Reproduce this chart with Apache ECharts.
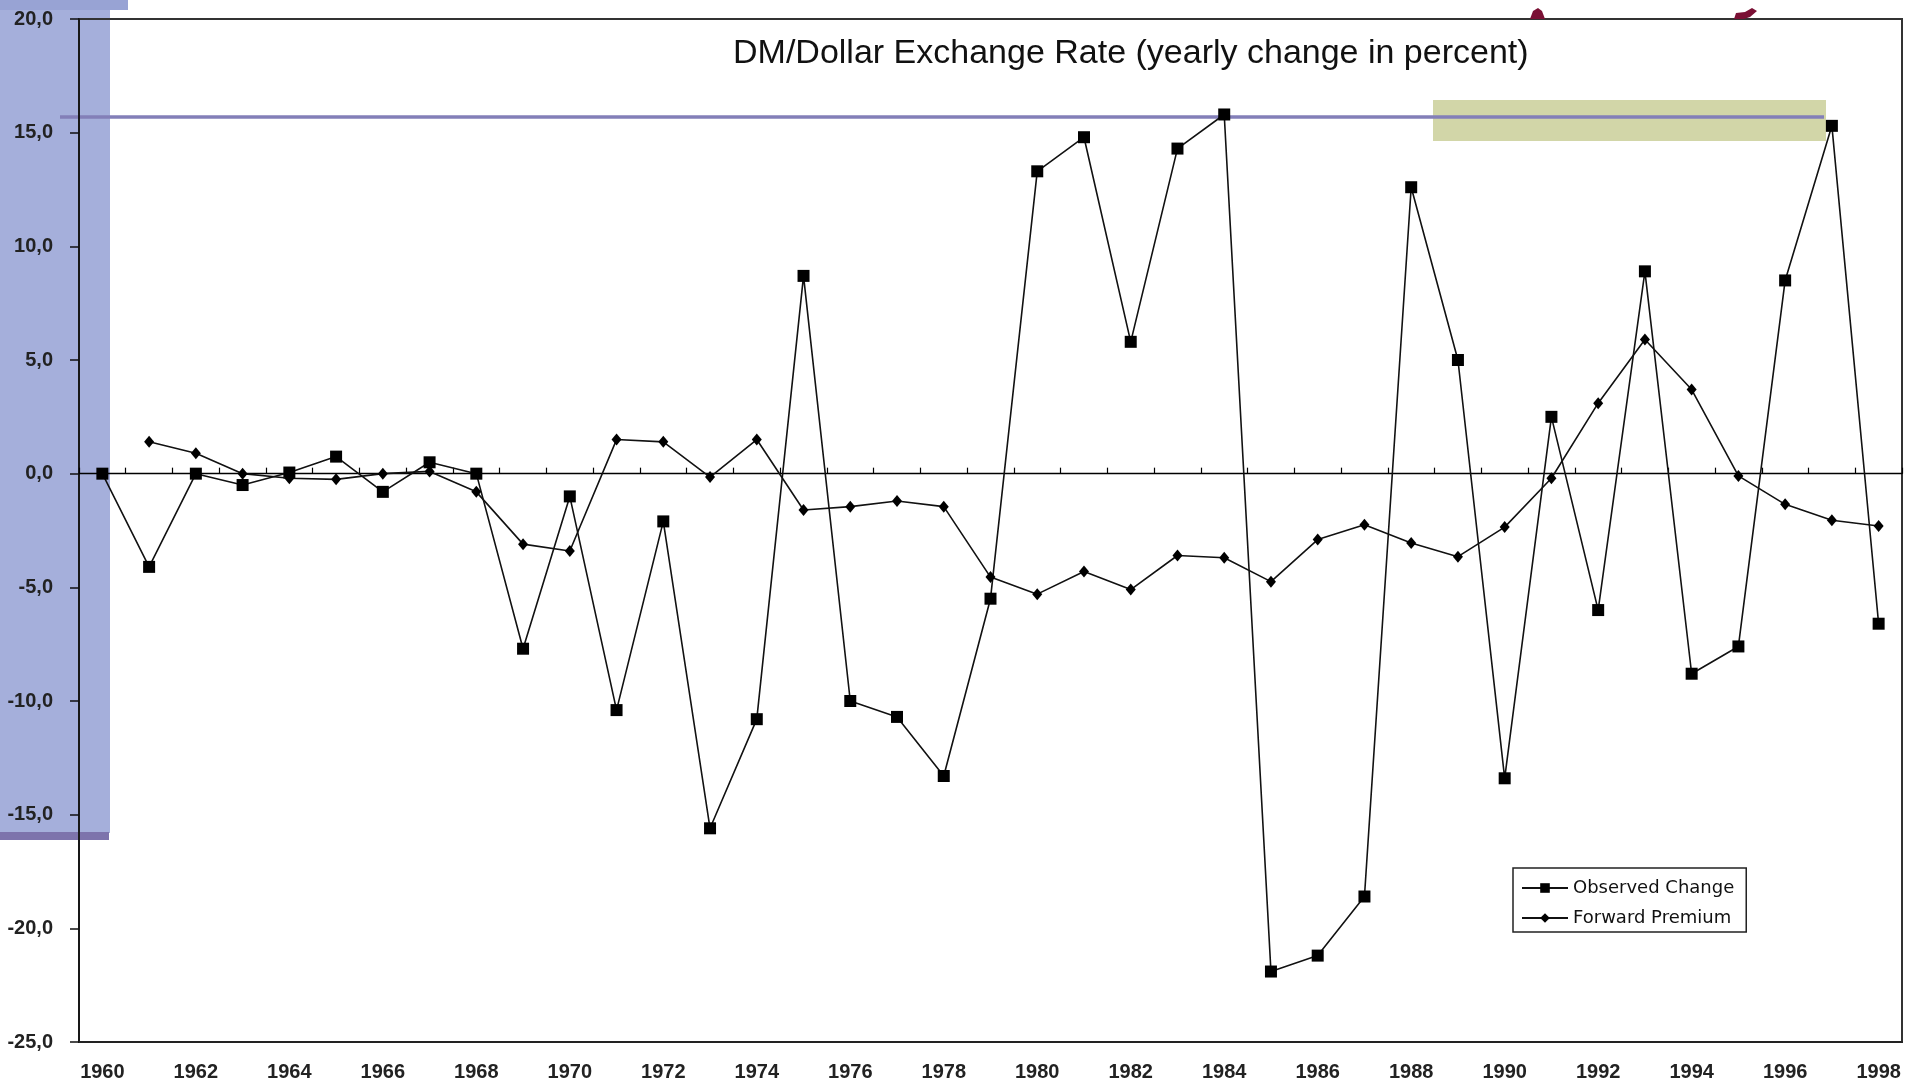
<!DOCTYPE html>
<html>
<head>
<meta charset="utf-8">
<script src="https://cdn.jsdelivr.net/npm/echarts@6/dist/echarts.min.js"></script>
<style>
  html, body { margin: 0; padding: 0; background: #fff; }
  #chart { width: 1907px; height: 1083px; }
</style>
</head>
<body>
<div id="chart"></div>
<script>
// years on the category axis
var years = ["1960", "1961", "1962", "1963", "1964", "1965", "1966", "1967", "1968", "1969",
  "1970", "1971", "1972", "1973", "1974", "1975", "1976", "1977", "1978", "1979",
  "1980", "1981", "1982", "1983", "1984", "1985", "1986", "1987", "1988", "1989",
  "1990", "1991", "1992", "1993", "1994", "1995", "1996", "1997", "1998"];

// yearly change of the DM/Dollar rate, percent
var observedChange = [0.0, -4.1, 0.0, -0.5, 0.05, 0.75, -0.8, 0.5, 0.0, -7.7,
  -1.0, -10.4, -2.1, -15.6, -10.8, 8.7, -10.0, -10.7, -13.3, -5.5,
  13.3, 14.8, 5.8, 14.3, 15.8, -21.9, -21.2, -18.6, 12.6, 5.0,
  -13.4, 2.5, -6.0, 8.9, -8.8, -7.6, 8.5, 15.3, -6.6];

var forwardPremium = [null, 1.4, 0.9, 0.0, -0.2, -0.25, 0.0, 0.1, -0.8, -3.1,
  -3.4, 1.5, 1.4, -0.15, 1.5, -1.6, -1.45, -1.2, -1.45, -4.55,
  -5.3, -4.3, -5.1, -3.6, -3.7, -4.75, -2.9, -2.25, -3.05, -3.65,
  -2.35, -0.2, 3.1, 5.9, 3.7, -0.1, -1.35, -2.05, -2.3];

var yTicks = { min: -25, max: 20, step: 5 };

var chart = echarts.init(document.getElementById("chart"));

var axisFont = { fontFamily: "Liberation Sans", fontSize: 20, fontWeight: "bold", color: "#222" };

chart.setOption({
  animation: false,
  backgroundColor: "#fff",
  title: {
    text: "DM/Dollar Exchange Rate (yearly change in percent)",
    left: 733,
    top: 37,
    padding: 0,
    textStyle: { fontFamily: "Liberation Sans", fontSize: 34, fontWeight: "normal", color: "#111" }
  },
  // slide decorations around the chart
  graphic: [
    { type: "rect", z: -5, shape: { x: 0, y: 0, width: 110, height: 833 }, style: { fill: "#a5afdb" } },
    { type: "rect", z: -5, shape: { x: 0, y: 0, width: 128, height: 10 }, style: { fill: "#98a3d4" } },
    { type: "rect", z: -5, shape: { x: 0, y: 832, width: 109, height: 8 }, style: { fill: "#7d73ac" } },
    { type: "rect", z: -4, shape: { x: 1433, y: 100, width: 393, height: 41 }, style: { fill: "#d2d6a8" } },
    { type: "line", z: -3, shape: { x1: 60, y1: 117, x2: 1824, y2: 117 }, style: { stroke: "#837fb8", lineWidth: 3.5 } },
    { type: "polygon", z: 10, shape: { points: [[1530, 19], [1533, 11], [1538, 8], [1542, 11], [1545, 19]] }, style: { fill: "#7a1034" } },
    { type: "polygon", z: 10, shape: { points: [[1734, 19], [1736, 13], [1745, 12], [1752, 8], [1757, 11], [1750, 17], [1744, 19]] }, style: { fill: "#7a1034" } }
  ],
  legend: {
    orient: "vertical",
    left: 1513,
    top: 868,
    padding: [10, 12, 4, 8],
    itemGap: 10,
    itemWidth: 46,
    itemHeight: 12,
    borderColor: "#222",
    borderWidth: 1.5,
    textStyle: { fontFamily: "DejaVu Sans", fontSize: 18, color: "#111", lineHeight: 20 },
    data: ["Observed Change", "Forward Premium"]
  },
  grid: {
    left: 79,
    top: 19,
    right: 5,
    bottom: 41,
    show: true,
    borderColor: "#333",
    borderWidth: 2
  },
  xAxis: [
    {
      type: "category",
      data: years,
      position: "bottom",
      boundaryGap: true,
      axisLine: { onZero: false, lineStyle: { color: "#222", width: 2 } },
      axisTick: { show: false },
      axisLabel: Object.assign({ interval: 1, margin: 20 }, axisFont),
      splitLine: { show: false }
    },
    {
      type: "category",
      data: years,
      position: "top",
      boundaryGap: true,
      axisLine: { onZero: true, lineStyle: { color: "#000", width: 1.4 } },
      axisTick: { show: true, inside: false, interval: 0, length: 6, lineStyle: { color: "#000", width: 1.2 } },
      axisLabel: { show: false },
      splitLine: { show: false }
    }
  ],
  yAxis: {
    type: "value",
    min: yTicks.min,
    max: yTicks.max,
    interval: yTicks.step,
    axisLine: { show: true, lineStyle: { color: "#111", width: 1.5 } },
    axisTick: { show: true, inside: false, length: 9, lineStyle: { color: "#111", width: 1.5 } },
    axisLabel: Object.assign({
      margin: 26,
      formatter: function (v) { return v.toFixed(1).replace(".", ","); }
    }, axisFont),
    splitLine: { show: false }
  },
  series: [
    {
      name: "Observed Change",
      type: "line",
      xAxisIndex: 0,
      data: observedChange,
      symbol: "rect",
      symbolSize: 12,
      showAllSymbol: true,
      itemStyle: { color: "#000" },
      lineStyle: { color: "#111", width: 1.6 },
      z: 3
    },
    {
      name: "Forward Premium",
      type: "line",
      xAxisIndex: 0,
      data: forwardPremium,
      symbol: "diamond",
      symbolSize: [10, 12],
      showAllSymbol: true,
      itemStyle: { color: "#000" },
      lineStyle: { color: "#111", width: 1.6 },
      z: 4
    }
  ]
});
</script>
</body>
</html>
